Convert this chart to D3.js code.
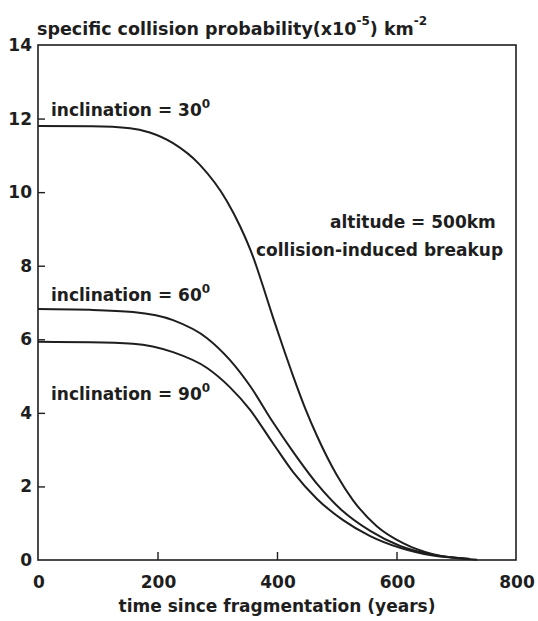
<!DOCTYPE html>
<html><head><meta charset="utf-8">
<script src="https://cdn.jsdelivr.net/npm/d3@7"></script>
<style>
body{margin:0;background:#fff;}
text{font-family:"DejaVu Sans",sans-serif;font-weight:bold;fill:#1e1e1e;}
</style></head>
<body><svg id="c" width="538" height="621"></svg>
<script>
const xTicks = [0, 200, 400, 600, 800];
const yTicks = [0, 2, 4, 6, 8, 10, 12, 14];
const years30 = [0,90,154,187,226,271,316,338,360,377,393,410,427,447,467,500,527,567,611,661,735];
const vals30  = [11.80,11.79,11.74,11.62,11.33,10.74,9.76,9.08,8.24,7.42,6.61,5.79,5.00,4.13,3.37,2.31,1.63,0.92,0.46,0.16,0.01];
const years60 = [0,87,159,226,283,321,355,393,427,467,510,556,606,661,723];
const vals60  = [6.82,6.80,6.74,6.52,6.03,5.44,4.73,3.75,2.94,2.07,1.33,0.79,0.38,0.14,0.03];
const years90 = [0,87,159,226,283,321,355,393,427,467,510,556,606,661,723];
const vals90  = [5.93,5.92,5.88,5.65,5.22,4.70,4.08,3.18,2.39,1.66,1.09,0.65,0.33,0.12,0.03];
const seriesLabels = ["30", "60", "90"];

const svg = d3.select("#c");
const L = 38, R = 516, T = 45, B = 560;
const x = d3.scaleLinear().domain([0, 800]).range([L, R]);
const y = d3.scaleLinear().domain([0, 14]).range([B, T]);
const ink = "#1e1e1e";
const FS = 17;

// frame
svg.append("rect").attr("x", L).attr("y", T).attr("width", R - L).attr("height", B - T)
  .attr("fill", "none").attr("stroke", ink).attr("stroke-width", 1.6);

// y axis ticks (inside)
const yAxis = d3.axisRight(y).tickValues(yTicks.slice(1, -1)).tickSize(7).tickFormat("");
svg.append("g").attr("transform", `translate(${L},0)`).call(yAxis)
  .call(g => g.select(".domain").remove())
  .selectAll("line").attr("stroke", ink).attr("stroke-width", 1.4);
svg.append("g").selectAll("text").data(yTicks).join("text")
  .attr("x", 32).attr("y", d => y(d) + 6).attr("text-anchor", "end")
  .attr("font-size", FS).text(d => d);

// x axis ticks (inside)
const xAxis = d3.axisTop(x).tickValues(xTicks.slice(1, -1)).tickSize(8).tickFormat("");
svg.append("g").attr("transform", `translate(0,${B})`).call(xAxis)
  .call(g => g.select(".domain").remove())
  .selectAll("line").attr("stroke", ink).attr("stroke-width", 1.4);
svg.append("g").selectAll("text").data(xTicks).join("text")
  .attr("x", d => x(d) + 1).attr("y", 588).attr("text-anchor", "middle")
  .attr("font-size", FS).text(d => d);

// axis title
svg.append("text").attr("x", (L + R) / 2).attr("y", 612).attr("text-anchor", "middle")
  .attr("font-size", FS).text("time since fragmentation (years)");

// y title with superscripts
const tt = svg.append("text").attr("x", 37).attr("y", 35).attr("font-size", 17.5);
tt.append("tspan").text("specific collision probability(x10");
tt.append("tspan").attr("dy", -10).attr("font-size", 12).text("-5");
tt.append("tspan").attr("dy", 10).text(") km");
tt.append("tspan").attr("dy", -10).attr("font-size", 12).text("-2");

// curves
const line = d3.line().x(d => x(d[0])).y(d => y(d[1])).curve(d3.curveMonotoneX);
const series = [
  d3.zip(years30, vals30),
  d3.zip(years60, vals60),
  d3.zip(years90, vals90)
];
svg.append("g").selectAll("path").data(series).join("path")
  .attr("d", line).attr("fill", "none").attr("stroke", ink).attr("stroke-width", 2);

// inclination labels
const labY = [116, 301, 400];
seriesLabels.forEach((s, i) => {
  const t = svg.append("text").attr("x", 51).attr("y", labY[i]).attr("font-size", FS);
  t.append("tspan").text("inclination = " + s);
  t.append("tspan").attr("dy", -8).attr("font-size", 12).text("0");
});

svg.append("text").attr("x", 330).attr("y", 228).attr("font-size", FS).text("altitude = 500km");
svg.append("text").attr("x", 256).attr("y", 256).attr("font-size", FS).text("collision-induced breakup");
</script></body></html>
